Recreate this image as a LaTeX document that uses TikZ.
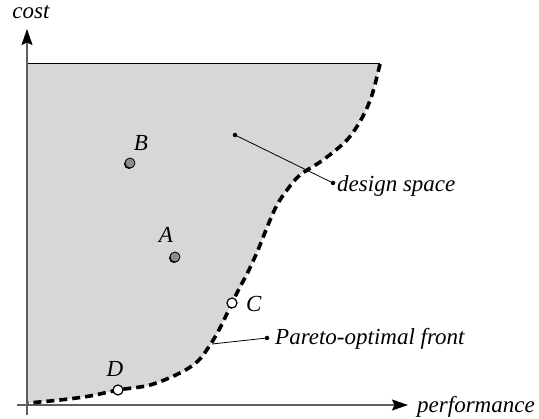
\documentclass[tikz,border=0pt]{standalone}
\usepackage{fontspec}
\setmainfont{Liberation Serif}
\usetikzlibrary{arrows.meta}
\definecolor{regionfill}{RGB}{215,215,215}
\definecolor{axiscol}{RGB}{95,95,95}
\definecolor{ptfill}{RGB}{140,140,140}
\begin{document}
\begin{tikzpicture}[x=1pt,y=-1pt,
  lbl/.style={font=\fontsize{23}{27}\selectfont\itshape, inner sep=0pt},
  axisline/.style={draw=axiscol, line width=1.6pt, -{Stealth[length=16pt,width=11pt,inset=2.5pt,color=black]}},
  frontline/.style={draw=black, line width=3.6pt, dash pattern=on 8pt off 5pt},
  leader/.style={draw=black, line width=0.8pt},
  ldot/.style={circle, fill=black, inner sep=0pt, minimum size=4.5pt},
  graypt/.style={circle, draw=black, fill=ptfill, line width=0.8pt, inner sep=0pt, minimum size=10pt},
  whitept/.style={circle, draw=black, fill=white, line width=1.2pt, inner sep=0pt, minimum size=10pt}]
\useasboundingbox (0,0) rectangle (539,419);
% design region
\fill[regionfill] (27,64) -- (380,64)
  -- plot[smooth, tension=0.55] coordinates {(380,64) (372,95) (362,118) (347,140) (323,160) (300,175) (287,190) (277,205) (268,225) (258,250) (248,272) (240,287) (232,303) (220,328) (210,345) (198,361) (180,373) (150,385) (118,390) (90,396) (60,400) (28,403)}
  -- (27,403) -- cycle;
\draw[black, line width=1pt] (27,64) -- (380,64);
% axes
\coordinate (yb) at (27,415);
\coordinate (yt) at (27,29);
\coordinate (xl) at (17,405);
\coordinate (xr) at (408,405);
\draw[axisline] (yb) -- (yt);
\draw[axisline] (xl) -- (xr);
\node[lbl, anchor=base] (cost) at (31,19) {cost};
\node[lbl, anchor=base west] (perf) at (417,413) {performance};
% pareto front
\draw[frontline] plot[smooth, tension=0.55] coordinates {(380,64) (372,95) (362,118) (347,140) (323,160) (300,175) (287,190) (277,205) (268,225) (258,250) (248,272) (240,287) (232,303) (220,328) (210,345) (198,361) (180,373) (150,385) (118,390) (90,396) (60,400) (28,403)};
% points
\node[circle, fill=black, inner sep=0pt, minimum size=10pt] at (129,164) {};
\node[graypt] (B) at (130,163) {};
\node[circle, fill=black, inner sep=0pt, minimum size=10pt] at (174,258) {};
\node[graypt] (A) at (175,257) {};
\node[whitept] (C) at (232,303) {};
\node[whitept] (D) at (118,390) {};
\node[lbl, anchor=base] (Bl) at (141,151) {B};
\node[lbl, anchor=base] (Al) at (166,243) {A};
\node[lbl, anchor=base west] (Cl) at (246,312) {C};
\node[lbl, anchor=base] (Dl) at (115,377) {D};
% design space leader
\node[ldot] (ds1) at (235,135) {};
\node[ldot] (ds2) at (333,183) {};
\draw[leader] (ds1.center) -- (ds2.center);
\node[lbl, anchor=base west] (dsl) at (337,192) {design space};
% pareto leader
\coordinate (pf1) at (212,344);
\node[ldot] (pf2) at (267,338) {};
\draw[leader] (pf1) -- (pf2.center);
\node[lbl, anchor=base west] (pfl) at (275,345) {Pareto-optimal front};
\end{tikzpicture}
\end{document}
